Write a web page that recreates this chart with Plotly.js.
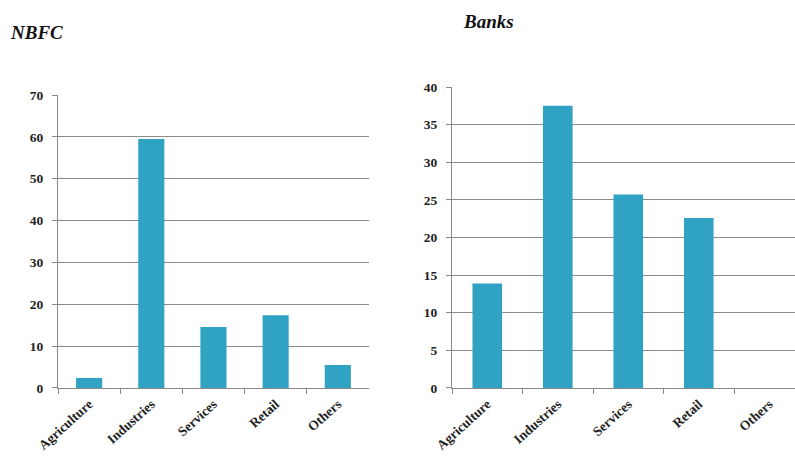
<!DOCTYPE html>
<html><head><meta charset="utf-8">
<script src="https://cdn.plot.ly/plotly-3.0.1.min.js"></script>
<style>html,body{margin:0;padding:0;background:#fff}#c{width:795px;height:466px}</style>
</head><body><div id="c"></div>
<script>
const categories = ["Agriculture", "Industries", "Services", "Retail", "Others"];
const nbfcValues = [2.4, 59.5, 14.6, 17.4, 5.5];
const bankValues = [13.9, 37.5, 25.7, 22.6, 0];
const nbfcTicks = [0, 10, 20, 30, 40, 50, 60, 70];
const bankTicks = [0, 5, 10, 15, 20, 25, 30, 35, 40];

const barColor = "#30a2c3";
const tickFont = {family: "Liberation Serif, serif", size: 13.5, color: "#222", weight: "bold"};

const traces = [
  {type: "bar", x: categories, y: nbfcValues, xaxis: "x", yaxis: "y",
   marker: {color: barColor, line: {width: 0}}, hoverinfo: "none"},
  {type: "bar", x: categories, y: bankValues, xaxis: "x2", yaxis: "y2",
   marker: {color: barColor, line: {width: 0}}, hoverinfo: "none"}
];

function xax(domain, range) {
  return {domain: domain, range: range, type: "category", showgrid: false,
    showline: true, linecolor: "#888", linewidth: 1,
    ticks: "outside", tickson: "boundaries", ticklen: 5, tickcolor: "#888",
    tickangle: -42, tickfont: tickFont, ticklabelstandoff: 2, automargin: false, fixedrange: true};
}
function yax(domain, range, ticks) {
  return {domain: domain, range: range, tickvals: ticks, ticktext: ticks.map(String),
    showgrid: true, gridcolor: "#8a8a8a", gridwidth: 1,
    showline: true, linecolor: "#888", linewidth: 1, zeroline: false,
    ticks: "outside", ticklen: 5, tickcolor: "#888", ticklabelstandoff: 6,
    tickfont: tickFont, automargin: false, fixedrange: true};
}

const layout = {
  width: 795, height: 466,
  margin: {l: 0, r: 0, t: 0, b: 0},
  paper_bgcolor: "#fff", plot_bgcolor: "#fff",
  showlegend: false, bargap: 0.58,
  xaxis: xax([0.073, 0.464], [-0.5, 4.5]),
  yaxis: Object.assign(yax([0.1674, 0.796], [0, 70], nbfcTicks), {anchor: "x"}),
  xaxis2: Object.assign(xax([0.5686, 1.0], [-0.5, 4.365]), {anchor: "y2"}),
  yaxis2: Object.assign(yax([0.1674, 0.8133], [0, 40], bankTicks), {anchor: "x2"}),
  annotations: [
    {text: "<b><i>NBFC</i></b>", xref: "paper", yref: "paper", x: 0.010, y: 0.931,
     xanchor: "left", yanchor: "middle", showarrow: false,
     font: {family: "Liberation Serif, serif", size: 19, color: "#111"}},
    {text: "<b><i>Banks</i></b>", xref: "paper", yref: "paper", x: 0.580, y: 0.953,
     xanchor: "left", yanchor: "middle", showarrow: false,
     font: {family: "Liberation Serif, serif", size: 19, color: "#111"}}
  ]
};
layout.xaxis.anchor = "y";

Plotly.newPlot("c", traces, layout, {staticPlot: true, displayModeBar: false});
</script>
</body></html>
